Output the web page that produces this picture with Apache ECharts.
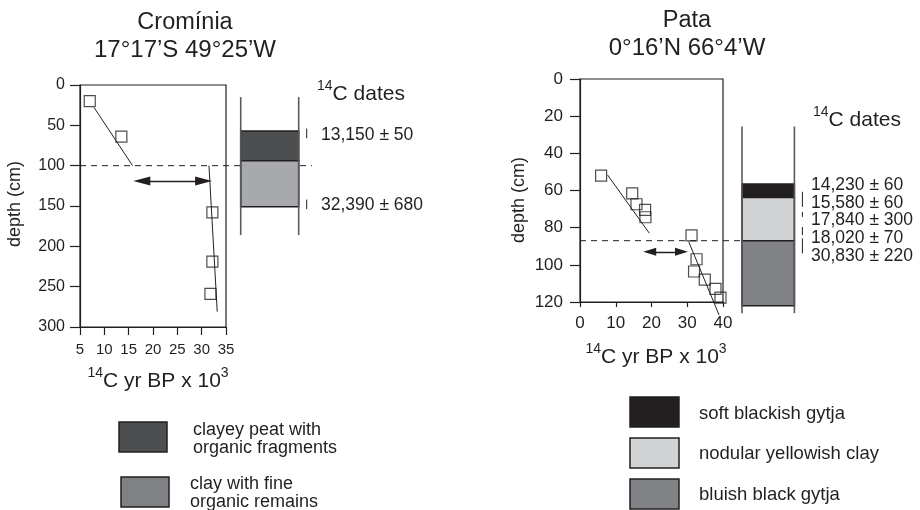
<!DOCTYPE html>
<html lang="en">
<head>
<meta charset="UTF-8">
<title>Cromínia / Pata</title>
<script src="https://cdn.jsdelivr.net/npm/echarts@6/dist/echarts.min.js"></script>
<style>
  html, body { margin: 0; padding: 0; background: #fff; }
  #chart { width: 920px; height: 510px; }
</style>
</head>
<body>
<div id="chart"></div>
<script>
// ---------- Cromínia 17°17'S 49°25'W ----------
var cromXTicks = [5, 10, 15, 20, 25, 30, 35];          // 14C yr BP x 10^3
var cromYTicks = [0, 50, 100, 150, 200, 250, 300];     // depth (cm)
var cromAges = [7, 13.5, 32.2, 32.2, 31.8];
var cromDepths = [20, 64, 158, 219, 259];
var cromFitUpper = [[7.9, 28], [15.8, 100]];
var cromFitLower = [[31.5, 100], [33.2, 281]];
var cromHiatus = 100;
var cromArrow = [[17.7, 119], [30.4, 119]];
var cromCore = [15, 186];
var cromLayers = [[57, 94, 0], [94, 151, 1]];           // top, bottom, layer type
var cromSamples = [[54, 66], [142, 154]];
var cromDates = ['13,150 ± 50', '32,390 ± 680'];
var cromLegend = ['clayey peat with\norganic fragments', 'clay with fine\norganic remains'];

// ---------- Pata 0°16'N 66°4'W ----------
var pataXTicks = [0, 10, 20, 30, 40];
var pataYTicks = [0, 20, 40, 60, 80, 100, 120];
var pataAges = [5.9, 14.6, 15.8, 18.2, 18.3, 31.2, 32.6, 31.9, 34.9, 37.9, 39.3];
var pataDepths = [52, 61.5, 67.4, 70.4, 74.4, 84.2, 97, 103.6, 108, 112.9, 117.6];
var pataFitUpper = [[7.7, 51.6], [19.4, 83]];
var pataFitLower = [[30.4, 87.5], [38.9, 127]];
var pataHiatus = 87;
var pataArrow = [[19.5, 93], [28.4, 93]];
var pataCore = [25.6, 126];
var pataLayers = [[56.5, 63.8, 0], [63.8, 87, 1], [87, 122, 2]];
var pataSamples = [[60.7, 68.8], [71.5, 74.2], [79.6, 84], [85.8, 93.9]];
var pataDates = ['14,230 ± 60', '15,580 ± 60', '17,840 ± 300', '18,020 ± 70', '30,830 ± 220'];
var pataLegend = ['soft blackish gytja', 'nodular yellowish clay', 'bluish black gytja'];

var FONT = '"Liberation Sans", Arial, Helvetica, sans-serif';
var INK = '#231f20';
var cromColors = ['#4d4e50', '#a7a9ac'];
var cromLegendColors = ['#4d4e50', '#808184'];
var pataColors = ['#231f20', '#d1d3d4', '#808285'];

function zip(a, b) {
  return a.map(function (v, i) { return [v, b[i]]; });
}

function xAxisOf(gi, ticks, fs, tickLen, margin) {
  return {
    gridIndex: gi, type: 'value', position: 'bottom',
    min: ticks[0], max: ticks[ticks.length - 1], interval: ticks[1] - ticks[0],
    axisLine: { show: true, onZero: false, lineStyle: { color: INK, width: 1.2 } },
    axisTick: { show: true, inside: false, length: tickLen, lineStyle: { color: INK, width: 1.2 } },
    axisLabel: { color: INK, fontSize: fs, fontFamily: FONT, margin: margin },
    splitLine: { show: false }
  };
}
function yAxisOf(gi, ticks, fs, tickLen, margin) {
  return {
    gridIndex: gi, type: 'value', position: 'left', inverse: true,
    min: ticks[0], max: ticks[ticks.length - 1], interval: ticks[1] - ticks[0],
    axisLine: { show: true, onZero: false, lineStyle: { color: INK, width: 1.2 } },
    axisTick: { show: true, inside: false, length: tickLen, lineStyle: { color: INK, width: 1.2 } },
    axisLabel: { color: INK, fontSize: fs, fontFamily: FONT, margin: margin },
    splitLine: { show: false }
  };
}

function points(gi, ages, depths) {
  return {
    type: 'scatter', xAxisIndex: gi, yAxisIndex: gi, clip: false, silent: true, z: 3,
    data: zip(ages, depths), symbol: 'rect', symbolSize: 11,
    itemStyle: { color: 'rgba(0,0,0,0)', borderColor: INK, borderWidth: 1.2 }
  };
}
function fit(gi, pts, arrow, arrowSize) {
  var s = {
    type: 'line', xAxisIndex: gi, yAxisIndex: gi, clip: false, silent: true, z: 4,
    data: pts, symbol: 'none', lineStyle: { color: INK, width: 1 }
  };
  if (arrow) {
    s.markLine = {
      silent: true, symbol: ['triangle', 'triangle'], symbolSize: arrowSize,
      label: { show: false },
      lineStyle: { color: INK, width: 1.3, type: 'solid' },
      itemStyle: { color: INK },
      data: [[{ coord: arrow[0] }, { coord: arrow[1] }]]
    };
  }
  return s;
}
function hiatus(gi, depth, extendPx) {
  return {
    type: 'custom', xAxisIndex: gi, yAxisIndex: gi, silent: true, z: 1,
    data: [[depth]],
    renderItem: function (params, api) {
      var cs = params.coordSys;
      var y = api.coord([0, api.value(0)])[1];
      return { type: 'line', shape: { x1: cs.x, y1: y, x2: cs.x + cs.width + extendPx, y2: y },
        style: { stroke: INK, lineWidth: 1, lineDash: [6, 5] } };
    }
  };
}
function coreLayers(gi, layers, colors, gap, w) {
  return {
    type: 'custom', xAxisIndex: gi, yAxisIndex: gi, silent: true, z: 5,
    data: layers,
    renderItem: function (params, api) {
      var cs = params.coordSys;
      var y0 = api.coord([0, api.value(0)])[1];
      var y1 = api.coord([0, api.value(1)])[1];
      return { type: 'rect', shape: { x: cs.x + cs.width + gap, y: y0, width: w, height: y1 - y0 },
        style: { fill: colors[api.value(2)], stroke: INK, lineWidth: 1.5 } };
    }
  };
}
function coreSides(gi, core, gap, w) {
  return {
    type: 'custom', xAxisIndex: gi, yAxisIndex: gi, silent: true, z: 6,
    data: [core],
    renderItem: function (params, api) {
      var cs = params.coordSys;
      var y0 = api.coord([0, api.value(0)])[1];
      var y1 = api.coord([0, api.value(1)])[1];
      var x0 = cs.x + cs.width + gap;
      var st = { stroke: '#58595b', lineWidth: 1.6 };
      return { type: 'group', children: [
        { type: 'line', shape: { x1: x0, y1: y0, x2: x0, y2: y1 }, style: st },
        { type: 'line', shape: { x1: x0 + w, y1: y0, x2: x0 + w, y2: y1 }, style: st }
      ] };
    }
  };
}
function sampleMarks(gi, samples, offsetPx) {
  return {
    type: 'custom', xAxisIndex: gi, yAxisIndex: gi, silent: true, z: 6,
    data: samples,
    renderItem: function (params, api) {
      var cs = params.coordSys;
      var y0 = api.coord([0, api.value(0)])[1];
      var y1 = api.coord([0, api.value(1)])[1];
      var x = cs.x + cs.width + offsetPx;
      return { type: 'line', shape: { x1: x, y1: y0, x2: x, y2: y1 }, style: { stroke: INK, lineWidth: 1 } };
    }
  };
}

function txt(x, y, s, fs, align, extra) {
  var e = { type: 'text', x: x, y: y, silent: true, style: {
    text: s, fontSize: fs, fontFamily: FONT, fill: INK,
    align: align || 'left', verticalAlign: 'middle',
    textAlign: align || 'left', textVerticalAlign: 'middle'
  } };
  if (extra) { for (var k in extra) e.style[k] = extra[k]; }
  return e;
}
function supTxt(x, y, pre, main, post, fs, align) {
  var sfs = Math.round(fs * 0.65);
  return txt(x, y, '{s|' + pre + '}{b|' + main + '}' + (post ? '{s|' + post + '}' : ''), fs, align, {
    rich: {
      s: { fontSize: sfs, fontFamily: FONT, fill: INK, color: INK, verticalAlign: 'top', lineHeight: sfs + 1 },
      b: { fontSize: fs, fontFamily: FONT, fill: INK, color: INK, verticalAlign: 'bottom', lineHeight: fs + 4 }
    }
  });
}
function box(x, y, w, h, fill) {
  return { type: 'rect', silent: true, shape: { x: x, y: y, width: w, height: h },
    style: { fill: fill, stroke: INK, lineWidth: 1.5 } };
}

var g = [];
// titles
g.push(txt(185, 23, 'Cromínia', 23.5, 'center'));
g.push(txt(185, 50, '17°17’S 49°25’W', 24, 'center'));
g.push(txt(687, 21, 'Pata', 23.5, 'center'));
g.push(txt(687, 48, '0°16’N 66°4’W', 24, 'center'));
// axis names
g.push(supTxt(158, 379, '14', 'C yr BP x 10', '3', 21, 'center'));
g.push(supTxt(656, 355, '14', 'C yr BP x 10', '3', 21, 'center'));
var dl = txt(15, 204, 'depth (cm)', 18, 'center'); dl.rotation = Math.PI / 2; g.push(dl);
var dr = txt(519, 200, 'depth (cm)', 18, 'center'); dr.rotation = Math.PI / 2; g.push(dr);
// 14C dates headers and labels
g.push(supTxt(317, 92, '14', 'C dates', '', 21, 'left'));
g.push(supTxt(813, 118, '14', 'C dates', '', 21, 'left'));
cromDates.forEach(function (d, i) { g.push(txt(321, 135 + i * 70, d, 17.5)); });
pataDates.forEach(function (d, i) { g.push(txt(811, 185 + i * 17.7, d, 17.5)); });
// legends
cromLegend.forEach(function (name, i) {
  g.push(box(119 + i * 2, 422 + i * 55, 48, 30, cromLegendColors[i]));
  g.push(txt(193 - i * 3, 439 + i * 54, name, 18, 'left', { lineHeight: 18 }));
});
pataLegend.forEach(function (name, i) {
  g.push(box(630, 397 + i * 41, 49, 30, pataColors[i]));
  g.push(txt(699, 413.5 + i * 40.8, name, 18.5));
});

var option = {
  animation: false,
  backgroundColor: '#ffffff',
  textStyle: { fontFamily: FONT },
  grid: [
    { left: 80, top: 85, width: 146, height: 242, show: true, borderColor: INK, borderWidth: 1.2,
      backgroundColor: 'rgba(0,0,0,0)', containLabel: false, outerBoundsMode: 'none' },
    { left: 580, top: 79, width: 143, height: 223, show: true, borderColor: INK, borderWidth: 1.2,
      backgroundColor: 'rgba(0,0,0,0)', containLabel: false, outerBoundsMode: 'none' }
  ],
  xAxis: [xAxisOf(0, cromXTicks, 15, 8, 15), xAxisOf(1, pataXTicks, 17, 5, 13)],
  yAxis: [yAxisOf(0, cromYTicks, 16, 10, 15), yAxisOf(1, pataYTicks, 17, 10, 17)],
  series: [
    hiatus(0, cromHiatus, 86),
    points(0, cromAges, cromDepths),
    fit(0, cromFitUpper, cromArrow, [9, 17]),
    fit(0, cromFitLower),
    coreLayers(0, cromLayers, cromColors, 14.7, 58),
    coreSides(0, cromCore, 14.7, 58),
    sampleMarks(0, cromSamples, 80.7),

    hiatus(1, pataHiatus, 17),
    points(1, pataAges, pataDepths),
    fit(1, pataFitUpper, pataArrow, [8, 13]),
    fit(1, pataFitLower),
    coreLayers(1, pataLayers, pataColors, 19, 52.4),
    coreSides(1, pataCore, 19, 52.4),
    sampleMarks(1, pataSamples, 79.4)
  ],
  graphic: { elements: g }
};

var chart = echarts.init(document.getElementById('chart'), null, { renderer: 'canvas' });
chart.setOption(option);
</script>
</body>
</html>
